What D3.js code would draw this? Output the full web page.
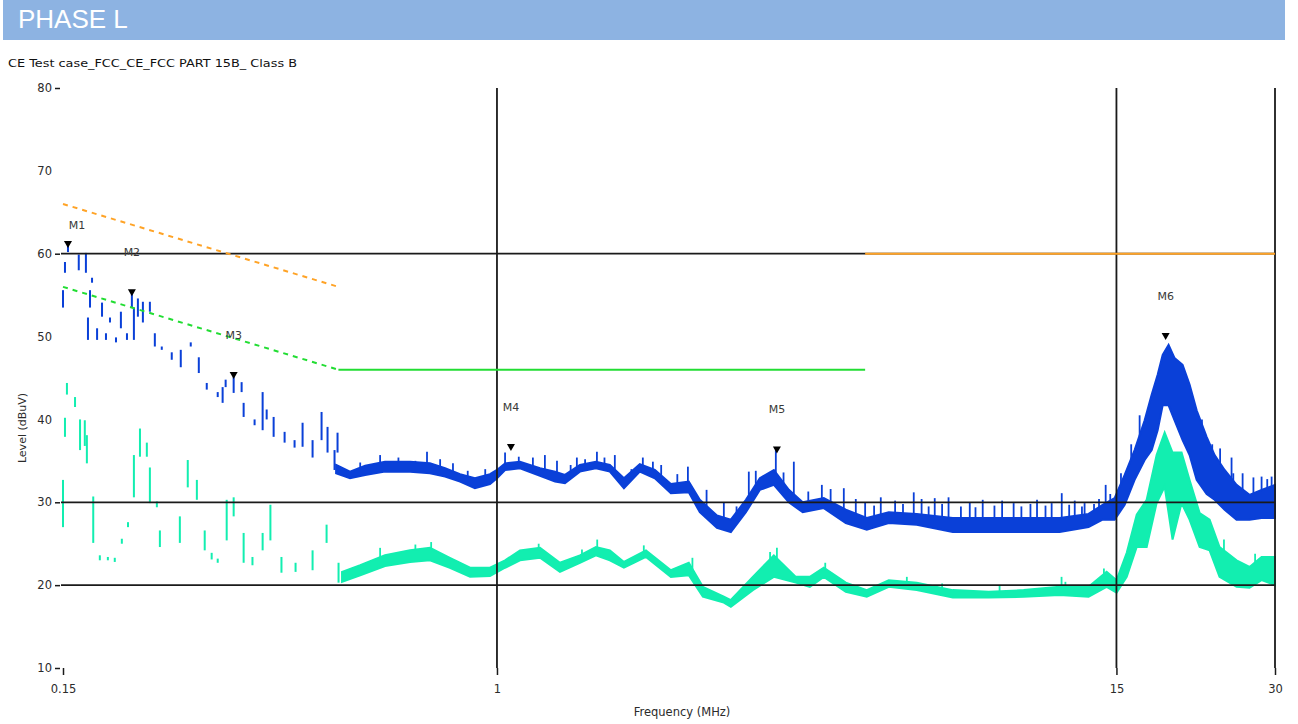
<!DOCTYPE html>
<html>
<head>
<meta charset="utf-8">
<script src="https://cdn.jsdelivr.net/npm/d3@7"></script>
<style>
  html, body { margin: 0; padding: 0; background: #ffffff; }
  svg { display: block; }
</style>
</head>
<body>
<svg id="chart" width="1298" height="724"></svg>
<script>
// ---- Axis ticks and grid ----
const freqTicks = [0.15, 1, 15, 30];
const freqTickLabels = ["0.15", "1", "15", "30"];
const levelTicks = [80, 70, 60, 50, 40, 30, 20, 10];
const levelTickMarks = [80, 60, 30, 20, 10];
const gridLevels = [60, 30, 20];
const gridFreqs = [1, 15, 30];

// ---- FCC Part 15B Class B limit segments [MHz, dBuV] ----
const qpLimitSloped = [[0.15, 66], [0.5, 56]];
const avLimitSloped = [[0.15, 56], [0.5, 46]];
const avLimitFlat = [[0.5, 46], [5, 46]];
const qpLimitFlat = [[5, 60], [30, 60]];

// ---- Peak trace, 0.15-0.5 MHz sweep: [MHz, low dBuV, high dBuV] ----
const peakSparse = [
  [0.150, 53.5, 55.6], [0.1513, 57.7, 59.0], [0.1533, 60.2, 61.0], [0.1607, 58.0, 59.9],
  [0.1658, 57.7, 60.1], [0.1673, 49.6, 52.3], [0.1688, 53.5, 55.6], [0.1703, 56.5, 57.1],
  [0.1741, 49.6, 51.0], [0.1779, 52.4, 54.1], [0.1810, 49.6, 50.4], [0.1842, 51.7, 52.3],
  [0.1891, 49.3, 49.9], [0.1932, 51.0, 53.0], [0.1984, 49.6, 50.4], [0.2027, 53.5, 55.2],
  [0.2045, 49.6, 53.5], [0.2081, 52.4, 54.6], [0.2127, 51.7, 54.2], [0.2193, 53.0, 54.2],
  [0.2241, 48.8, 50.4], [0.2310, 48.4, 48.8], [0.2413, 47.2, 48.1], [0.2510, 46.3, 48.4],
  [0.2622, 48.8, 49.3], [0.2716, 45.6, 47.5], [0.2812, 43.6, 44.4], [0.2950, 42.7, 43.3],
  [0.3014, 42.0, 43.9], [0.3054, 43.9, 44.8], [0.3163, 43.2, 45.1], [0.3275, 43.3, 44.5],
  [0.3304, 40.3, 42.0], [0.3466, 39.3, 40.0], [0.3590, 38.7, 43.3], [0.3654, 40.0, 41.2],
  [0.3767, 37.9, 40.3], [0.3952, 37.2, 38.5], [0.4128, 36.6, 37.5], [0.4275, 36.7, 39.6],
  [0.4466, 35.4, 37.5], [0.4645, 37.5, 40.9], [0.4768, 36.0, 39.1], [0.4916, 33.9, 36.3],
  [0.4981, 36.0, 38.4]
];

// ---- Peak trace, 0.5-30 MHz envelope: [MHz, low dBuV, high dBuV] ----
const peakBand = [
  [0.495, 33.5, 34.5], [0.526, 32.9, 33.7], [0.562, 33.3, 34.4], [0.613, 33.7, 34.9],
  [0.684, 33.7, 34.9], [0.746, 33.5, 34.7], [0.797, 33.1, 34.1], [0.851, 32.5, 33.4],
  [0.908, 31.7, 32.9], [0.970, 32.2, 33.4], [1.000, 32.9, 33.9], [1.036, 33.9, 34.7],
  [1.106, 34.1, 34.9], [1.207, 33.2, 34.1], [1.289, 32.5, 33.7], [1.346, 32.3, 33.3],
  [1.437, 33.7, 34.5], [1.541, 34.1, 34.9], [1.638, 33.7, 34.5], [1.742, 31.7, 32.9],
  [1.867, 33.7, 34.6], [1.994, 32.9, 33.9], [2.139, 31.1, 32.2], [2.313, 31.2, 32.5],
  [2.427, 28.8, 30.3], [2.616, 26.9, 28.4], [2.780, 26.4, 27.9], [2.969, 28.8, 30.3],
  [3.155, 31.5, 32.9], [3.355, 32.1, 33.9], [3.582, 30.0, 31.5], [3.806, 28.8, 30.0],
  [4.173, 29.3, 30.5], [4.595, 27.5, 29.1], [5.036, 26.7, 28.1], [5.544, 27.5, 28.8],
  [6.266, 27.3, 28.6], [7.334, 26.4, 28.1], [8.584, 26.4, 28.1], [10.00, 26.4, 28.1],
  [11.70, 26.4, 28.1], [13.28, 27.0, 28.6], [14.12, 27.9, 29.7], [14.88, 27.9, 30.5],
  [15.55, 29.7, 33.3], [16.24, 32.7, 36.3], [16.97, 35.1, 39.9], [17.50, 36.3, 43.0],
  [17.96, 38.7, 45.4], [18.36, 41.7, 47.8], [18.84, 41.7, 49.0], [19.34, 39.9, 47.4],
  [20.03, 37.5, 46.6], [20.65, 35.7, 44.2], [21.30, 32.7, 41.1], [22.25, 31.0, 37.9],
  [23.04, 30.3, 35.7], [24.07, 29.1, 33.9], [25.36, 27.9, 32.1], [26.84, 27.9, 30.9],
  [28.29, 28.1, 31.5], [30.00, 28.1, 32.1]
];

// Peak-detector spikes above the envelope: [MHz, dBuV]
const peakSpikes = [
  [0.55, 34.8], [0.600, 35.7], [0.65, 35.4], [0.70, 35.0], [0.7365, 36.1], [0.78, 35.2],
  [0.825, 34.7], [0.88, 33.8], [0.95, 34.0], [1.036, 36.0], [1.10, 35.5], [1.170, 35.4],
  [1.233, 35.7], [1.30, 35.0], [1.38, 34.5], [1.418, 35.4], [1.47, 35.2], [1.548, 36.1],
  [1.60, 35.4], [1.674, 35.7], [1.80, 34.0], [1.892, 35.4], [1.977, 34.9], [2.05, 34.5],
  [2.20, 33.4], [2.304, 34.3], [2.50, 31.5], [2.696, 30.0], [2.85, 29.5], [3.007, 33.7],
  [3.10, 33.8], [3.384, 36.3], [3.50, 33.6], [3.661, 34.9], [3.90, 31.3], [4.138, 32.1],
  [4.30, 31.6], [4.555, 31.7], [4.80, 30.4], [5.00, 30.0], [5.20, 29.6], [5.354, 30.6],
  [5.70, 30.2], [5.90, 29.8], [6.184, 31.2], [6.40, 30.4], [6.60, 29.5], [6.778, 30.5],
  [7.00, 29.8], [7.20, 30.6], [7.60, 29.5], [7.90, 30.0], [8.10, 29.4], [8.36, 30.3],
  [8.80, 29.6], [9.10, 30.2], [9.57, 29.9], [9.90, 29.5], [10.3, 29.8], [10.6, 30.3],
  [11.0, 29.6], [11.3, 29.9], [11.81, 31.1], [12.2, 29.7], [12.5, 30.2], [12.9, 29.5],
  [13.05, 29.9], [13.6, 29.8], [13.9, 30.4], [14.31, 32.1], [14.6, 31.0], [15.3, 33.5],
  [16.0, 37.0], [16.6, 40.5], [21.8, 40.0], [22.8, 37.0], [23.6, 36.5], [24.81, 35.4],
  [25.0, 33.5], [26.04, 33.5], [27.3, 33.0], [28.29, 33.1], [29.0, 32.8], [29.56, 33.1]
];

// ---- Average trace, 0.15-0.5 MHz sweep: [MHz, low dBuV, high dBuV] ----
const avgSparse = [
  [0.1500, 27.0, 32.7], [0.1513, 37.9, 40.2], [0.1526, 43.0, 44.4], [0.1581, 41.5, 42.7],
  [0.1616, 36.3, 40.0], [0.1650, 36.8, 39.9], [0.1665, 34.7, 38.1], [0.1712, 25.1, 30.7],
  [0.1762, 23.0, 23.6], [0.1825, 23.0, 23.4], [0.1881, 22.8, 23.3], [0.1940, 25.0, 25.6],
  [0.1993, 27.0, 27.6], [0.2045, 30.6, 35.7], [0.2100, 35.5, 38.9], [0.2164, 35.5, 37.2],
  [0.2193, 29.9, 34.2], [0.2261, 29.4, 30.1], [0.2291, 24.6, 26.6], [0.2500, 25.1, 28.3],
  [0.2588, 31.8, 35.1], [0.2693, 30.3, 32.7], [0.2787, 24.2, 26.6], [0.2873, 23.1, 23.9],
  [0.2950, 22.7, 23.2], [0.3068, 25.4, 30.3], [0.3163, 28.3, 30.6], [0.3304, 22.7, 26.3],
  [0.3434, 22.4, 23.4], [0.3590, 24.2, 26.3], [0.3714, 25.4, 29.7], [0.3898, 21.5, 23.4],
  [0.4146, 21.6, 22.7], [0.4466, 21.8, 24.2], [0.4748, 25.1, 27.3], [0.5003, 20.3, 22.7]
];

// ---- Average trace, 0.5-30 MHz envelope: [MHz, low dBuV, high dBuV] ----
const avgBand = [
  [0.508, 20.4, 21.6], [0.550, 21.2, 22.4], [0.613, 22.3, 23.6], [0.684, 22.8, 24.2],
  [0.746, 23.0, 24.5], [0.814, 22.1, 23.3], [0.889, 21.0, 22.1], [0.970, 21.1, 22.1],
  [1.036, 22.1, 23.0], [1.106, 23.0, 24.2], [1.207, 23.3, 24.5], [1.317, 21.6, 22.7],
  [1.437, 22.7, 23.6], [1.541, 23.6, 24.6], [1.638, 23.0, 24.2], [1.742, 22.1, 22.8],
  [1.918, 23.4, 24.2], [2.139, 21.0, 21.8], [2.313, 21.2, 22.7], [2.460, 18.6, 19.8],
  [2.696, 17.9, 18.6], [2.780, 17.4, 18.2], [3.060, 19.4, 21.0], [3.355, 21.0, 23.6],
  [3.693, 20.3, 21.0], [3.926, 19.8, 21.0], [4.173, 21.0, 22.1], [4.595, 19.2, 20.3],
  [5.036, 18.6, 19.4], [5.544, 19.8, 20.6], [6.266, 19.4, 20.3], [7.334, 18.5, 19.4],
  [8.584, 18.5, 19.2], [10.00, 18.6, 19.4], [11.70, 18.8, 19.8], [13.28, 18.6, 19.8],
  [14.37, 19.8, 21.6], [15.01, 19.1, 20.6], [15.69, 21.0, 23.9], [16.39, 24.6, 28.5],
  [17.12, 24.6, 30.3], [17.88, 29.9, 35.7], [18.52, 31.9, 38.4], [19.17, 25.5, 36.0],
  [19.94, 29.9, 36.0], [20.65, 27.9, 32.7], [21.58, 24.6, 28.7], [22.54, 24.2, 27.9],
  [23.54, 21.0, 24.6], [25.36, 19.8, 23.0], [26.84, 19.7, 22.2], [28.29, 20.6, 23.4],
  [30.00, 20.0, 23.4]
];

const avgSpikes = [
  [0.60, 24.5], [0.70, 24.9], [0.75, 25.2], [1.20, 25.0], [1.45, 24.3], [1.55, 25.5],
  [1.90, 24.8], [2.35, 23.3], [3.30, 24.0], [3.40, 24.5], [4.20, 22.7], [6.00, 21.0],
  [7.00, 20.2], [9.00, 20.0], [11.8, 21.0], [12.0, 20.4], [14.2, 22.0], [24.0, 25.5],
  [27.5, 23.8]
];

// ---- Markers ----
const markerNames = ["M1", "M2", "M3", "M4", "M5", "M6"];
const markerFreqs = [0.1533, 0.2027, 0.3163, 1.063, 3.40, 18.6];
const markerLevels = [61.0, 55.2, 45.2, 36.5, 36.2, 49.9];

// ---- Drawing ----
const svg = d3.select("#chart");
const plot = { left: 63, right: 1275, top: 88, bottom: 668 };

const x = d3.scaleLog().domain([0.15, 30]).range([plot.left, plot.right]);
const y = d3.scaleLinear().domain([10, 80]).range([plot.bottom, plot.top]);

const colors = {
  band: "#8db3e2",
  peak: "#0a40d8",
  avg: "#12eeb0",
  qp: "#ffa326",
  av: "#22dd33",
  grid: "#1a1a1a",
  text: "#2b2b2b"
};
const uiFont = "'DejaVu Sans', sans-serif";

// Header band
svg.append("rect").attr("x", 3).attr("y", 0).attr("width", 1282).attr("height", 40)
  .attr("fill", colors.band);
svg.append("text").attr("x", 18).attr("y", 28)
  .attr("font-family", "'Liberation Sans', Arial, sans-serif").attr("font-size", 26)
  .attr("fill", "#ffffff").text("PHASE L");

svg.append("text").attr("x", 8).attr("y", 67)
  .attr("font-family", uiFont).attr("font-size", 11).attr("fill", "#111")
  .attr("textLength", 289).attr("lengthAdjust", "spacingAndGlyphs")
  .text("CE Test case_FCC_CE_FCC PART 15B_ Class B");

// Traces
const traces = svg.append("g");

function drawSparse(data, color) {
  traces.append("g").selectAll("rect").data(data).join("rect")
    .attr("x", d => x(d[0]) - 1)
    .attr("width", 2)
    .attr("y", d => y(d[2]))
    .attr("height", d => Math.max(2, y(d[1]) - y(d[2])))
    .attr("fill", color);
}

function drawBand(data, spikes, color) {
  const area = d3.area()
    .x(d => x(d[0]))
    .y0(d => y(d[1]))
    .y1(d => y(d[2]))
    .curve(d3.curveLinear);
  traces.append("path").datum(data).attr("d", area).attr("fill", color)
    .attr("stroke", color).attr("stroke-width", 2);
  // spikes rise from the upper envelope at their frequency
  const bis = d3.bisector(d => d[0]).left;
  const upperAt = f => {
    const i = Math.min(Math.max(bis(data, f), 1), data.length - 1);
    const a = data[i - 1], b = data[i];
    const t = (Math.log(f) - Math.log(a[0])) / (Math.log(b[0]) - Math.log(a[0]));
    return a[2] + (b[2] - a[2]) * t;
  };
  traces.append("g").selectAll("line").data(spikes).join("line")
    .attr("x1", d => x(d[0])).attr("x2", d => x(d[0]))
    .attr("y1", d => y(d[1])).attr("y2", d => y(upperAt(d[0])) + 1)
    .attr("stroke", color).attr("stroke-width", 1.8);
}

drawSparse(peakSparse, colors.peak);
drawBand(peakBand, peakSpikes, colors.peak);
drawSparse(avgSparse, colors.avg);
drawBand(avgBand, avgSpikes, colors.avg);

// Grid lines
const grid = svg.append("g").attr("stroke", colors.grid).attr("stroke-width", 1.8);
grid.selectAll("line.h").data(gridLevels).join("line").attr("class", "h")
  .attr("x1", plot.left - 2).attr("x2", plot.right)
  .attr("y1", d => y(d)).attr("y2", d => y(d));
grid.selectAll("line.v").data(gridFreqs).join("line").attr("class", "v")
  .attr("x1", d => x(d)).attr("x2", d => x(d))
  .attr("y1", plot.top).attr("y2", plot.bottom);

// Limit lines
const limitLine = d3.line().x(d => x(d[0])).y(d => y(d[1]));
svg.append("path").datum(qpLimitSloped).attr("d", limitLine).attr("fill", "none")
  .attr("stroke", colors.qp).attr("stroke-width", 2).attr("stroke-dasharray", "5,5");
svg.append("path").datum(avLimitSloped).attr("d", limitLine).attr("fill", "none")
  .attr("stroke", colors.av).attr("stroke-width", 2).attr("stroke-dasharray", "5,5");
svg.append("path").datum(avLimitFlat).attr("d", limitLine).attr("fill", "none")
  .attr("stroke", colors.av).attr("stroke-width", 2);
svg.append("path").datum(qpLimitFlat).attr("d", limitLine).attr("fill", "none")
  .attr("stroke", colors.qp).attr("stroke-width", 2);

// Axes
const yAxis = d3.axisLeft(y).tickValues(levelTicks).tickSize(5).tickPadding(3)
  .tickFormat(d3.format("d"));
const gy = svg.append("g").attr("transform", `translate(${plot.left - 3},0)`).call(yAxis);
gy.select(".domain").remove();
gy.selectAll(".tick line")
  .attr("stroke", colors.grid).attr("stroke-width", 1.5)
  .attr("opacity", d => levelTickMarks.includes(d) ? 1 : 0);
gy.selectAll(".tick text").attr("font-family", uiFont).attr("font-size", 11.5)
  .attr("fill", colors.text);

const xAxis = d3.axisBottom(x).tickValues(freqTicks).tickSize(7).tickPadding(10)
  .tickFormat((d, i) => freqTickLabels[i]);
const gx = svg.append("g").attr("transform", `translate(0,${plot.bottom})`).call(xAxis);
gx.select(".domain").remove();
gx.selectAll(".tick line").attr("stroke", colors.grid).attr("stroke-width", 1.5);
gx.selectAll(".tick text").attr("font-family", uiFont).attr("font-size", 11.5)
  .attr("fill", colors.text);

svg.append("text").attr("x", 682).attr("y", 716).attr("text-anchor", "middle")
  .attr("font-family", uiFont).attr("font-size", 11.5).attr("fill", colors.text)
  .text("Frequency (MHz)");
svg.append("text").attr("transform", "translate(26,428) rotate(-90)")
  .attr("text-anchor", "middle")
  .attr("font-family", uiFont).attr("font-size", 11).attr("fill", colors.text)
  .text("Level (dBuV)");

// Markers: label centred over the marker, kept inside the plot's left edge
const markerLift = [2.5, 5, 5, 5, 5, 5];
const markers = svg.append("g");
markerNames.forEach((name, i) => {
  const mx = x(markerFreqs[i]), my = y(markerLevels[i]);
  markers.append("path")
    .attr("d", d3.symbol(d3.symbolTriangle, 28)())
    .attr("transform", `translate(${mx},${my - 2}) rotate(180)`)
    .attr("fill", "#000");
  markers.append("text")
    .attr("x", Math.max(mx, plot.left + 14)).attr("y", y(markerLevels[i] + markerLift[i]) + 4)
    .attr("text-anchor", "middle")
    .attr("font-family", uiFont).attr("font-size", 11).attr("fill", "#3a3a3a")
    .text(name);
});
</script>
</body>
</html>
